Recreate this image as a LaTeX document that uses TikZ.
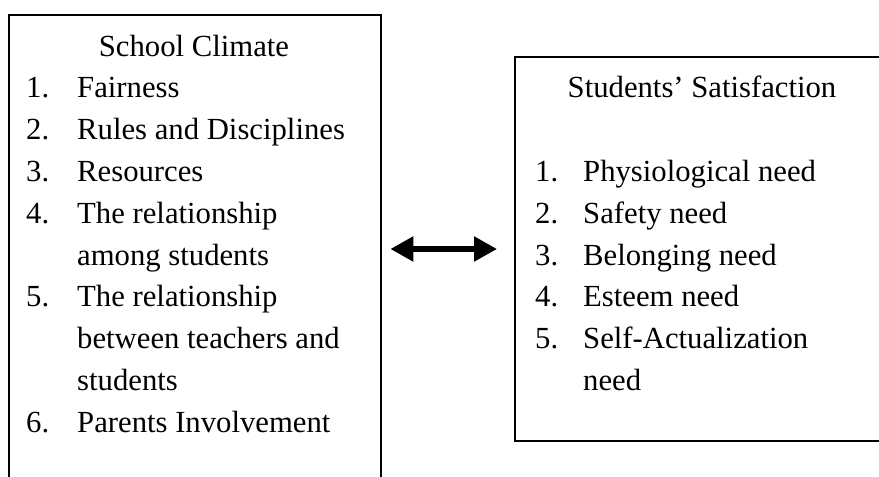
\documentclass[tikz,border=0pt]{standalone}
\usepackage{fontspec}
\setmainfont{Liberation Serif}
\usetikzlibrary{arrows.meta}
\begin{document}
\begin{tikzpicture}[x=1pt,y=-1pt,
  frame/.style={draw=black, line width=2.4pt, inner sep=0pt, anchor=north west},
  txt/.style={anchor=base west, inner sep=0pt, font=\fontsize{30.7}{36}\selectfont},
  ttl/.style={anchor=base, inner sep=0pt, font=\fontsize{30.7}{36}\selectfont},
  link/.style={line width=5.5pt,
    {Triangle[length=23pt,width=24pt]}-{Triangle[length=23pt,width=24pt]}}]
\useasboundingbox (0,0) rectangle (879,477);
\clip (0,0) rectangle (879,477);

% the two frames (both run past the page edge)
\node[frame, minimum width=372pt, minimum height=506pt] (climate) at (8,14) {};
\node[frame, minimum width=400pt, minimum height=384pt] (satis) at (514,56) {};

% left frame: School Climate
\node[ttl] (ctitle) at (194,56) {School Climate};
\node[txt] (cn1) at (26,97.8) {1.};
\node[txt] (ct1) at (77,97.8) {Fairness};
\node[txt] (cn2) at (26,139.6) {2.};
\node[txt] (ct2) at (77,139.6) {Rules and Disciplines};
\node[txt] (cn3) at (26,181.4) {3.};
\node[txt] (ct3) at (77,181.4) {Resources};
\node[txt] (cn4) at (26,223.2) {4.};
\node[txt] (ct4) at (77,223.2) {The relationship};
\node[txt] (ct4b) at (77,265) {among students};
\node[txt] (cn5) at (26,306.8) {5.};
\node[txt] (ct5) at (77,306.8) {The relationship};
\node[txt] (ct5b) at (77,348.6) {between teachers and};
\node[txt] (ct5c) at (77,390.4) {students};
\node[txt] (cn6) at (26,432.2) {6.};
\node[txt] (ct6) at (77,432.2) {Parents Involvement};

% right frame: Students' Satisfaction
\node[ttl] (stitle) at (702,97.8) {Students’ Satisfaction};
\node[txt] (sn1) at (535,181.4) {1.};
\node[txt] (st1) at (583,181.4) {Physiological need};
\node[txt] (sn2) at (535,223.2) {2.};
\node[txt] (st2) at (583,223.2) {Safety need};
\node[txt] (sn3) at (535,265) {3.};
\node[txt] (st3) at (583,265) {Belonging need};
\node[txt] (sn4) at (535,306.8) {4.};
\node[txt] (st4) at (583,306.8) {Esteem need};
\node[txt] (sn5) at (535,348.6) {5.};
\node[txt] (st5) at (583,348.6) {Self-Actualization};
\node[txt] (st5b) at (583,390.4) {need};

% two-way link between the frames
\coordinate (la) at ([xshift=8pt]climate.east |- 0,249);
\coordinate (ra) at ([xshift=-17pt]satis.west |- 0,249);
\draw[link] (la) -- (ra);
\end{tikzpicture}
\end{document}
